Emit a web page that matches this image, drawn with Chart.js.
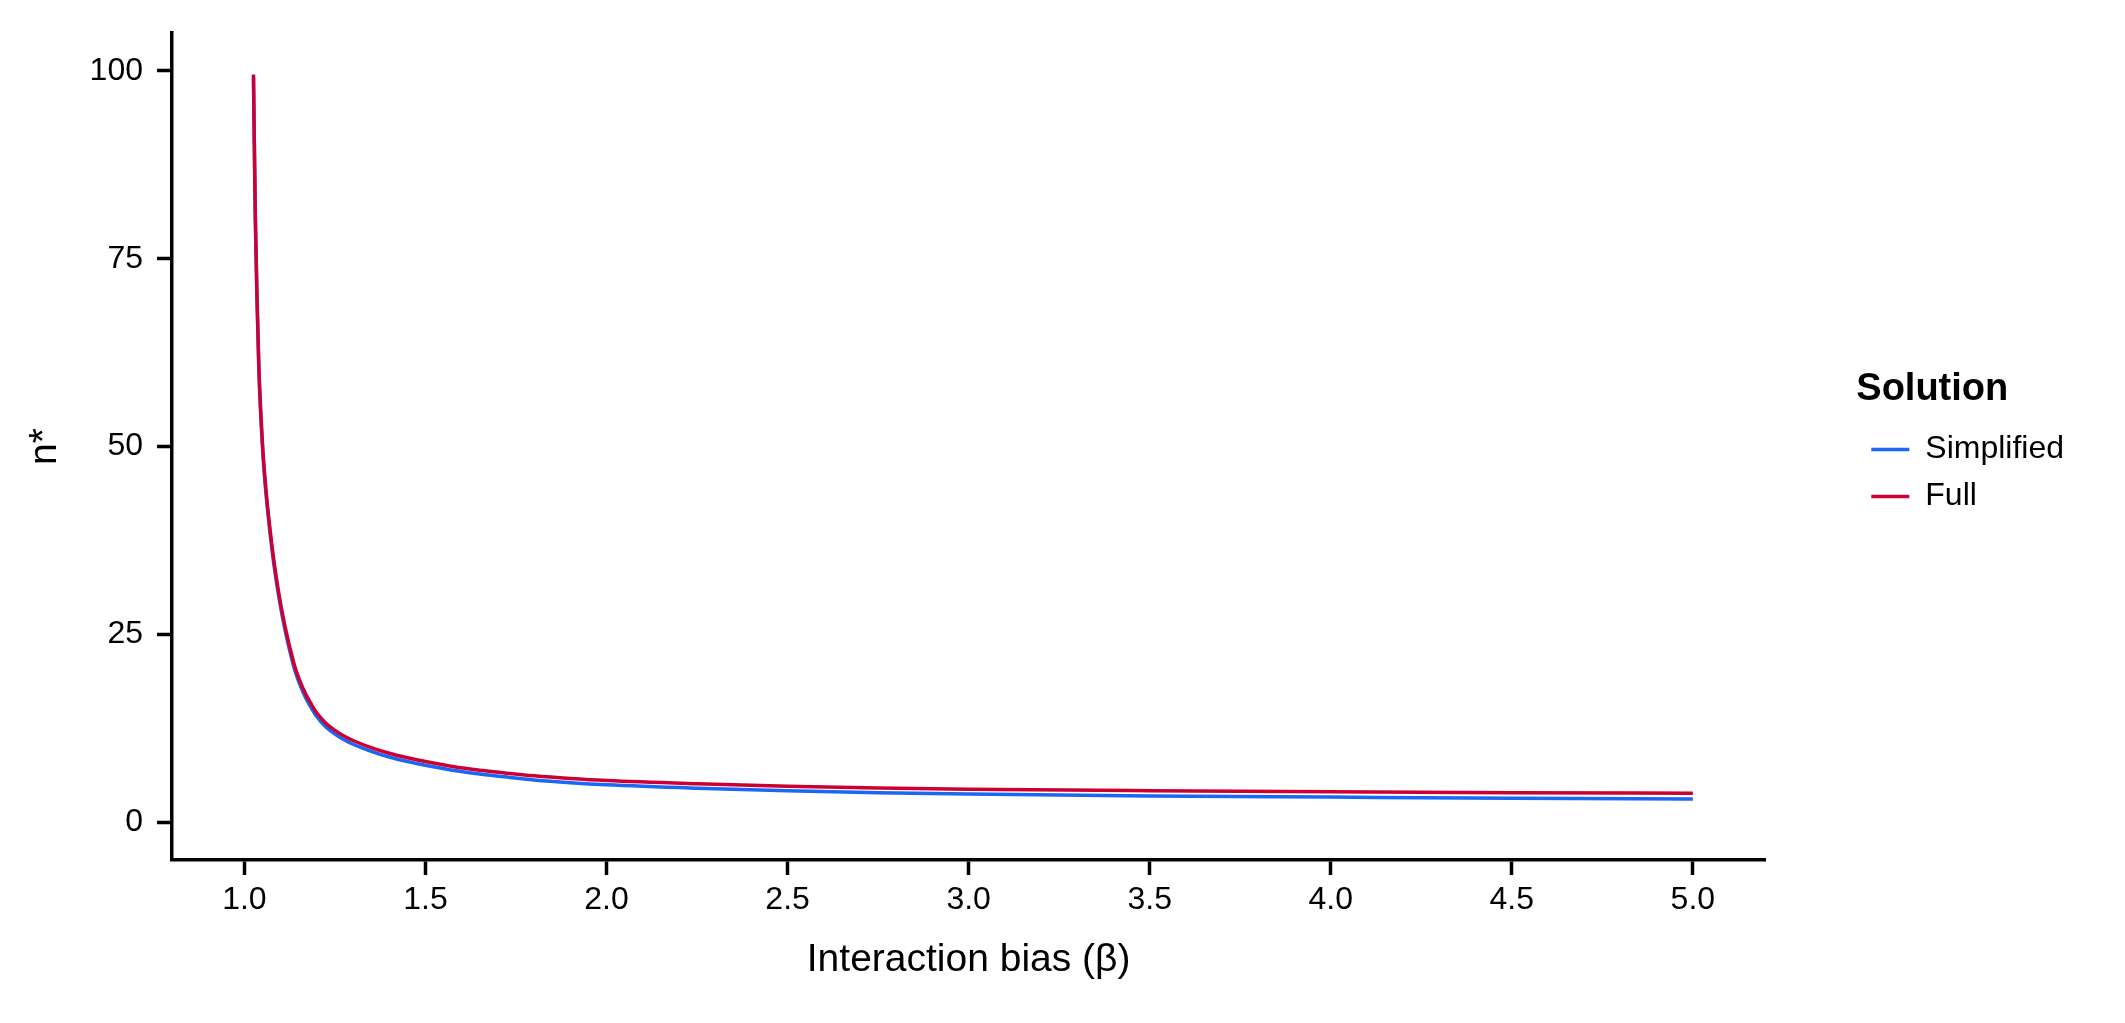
<!DOCTYPE html>
<html>
<head>
<meta charset="utf-8">
<script src="https://cdn.jsdelivr.net/npm/chart.js@4.4.1/dist/chart.umd.min.js"></script>
<style>
  html, body { margin: 0; padding: 0; background: #fff; }
  #wrap { width: 2125px; height: 1023px; position: relative; }
</style>
</head>
<body>
<div id="wrap"><canvas id="myChart"></canvas></div>
<script>
// interaction bias values (x)
var beta = [1.025, 1.03, 1.035, 1.04, 1.05, 1.06, 1.07, 1.08, 1.09, 1.1, 1.11, 1.12, 1.13, 1.14, 1.155,
            1.17, 1.185, 1.2, 1.225, 1.25, 1.275, 1.3, 1.35, 1.4, 1.45, 1.5, 1.575, 1.65, 1.725, 1.8,
            1.9, 2.0, 2.25, 2.5, 2.75, 3.0, 3.5, 4.0, 4.5, 5.0];

// n* for the full solution
var full = [99.5, 81, 69.5, 60.5, 50.3, 44.0, 39.3, 35.3, 32.0, 29.1, 26.6, 24.4, 22.4, 20.6, 18.6,
            17.0, 15.7, 14.55, 13.2, 12.25, 11.5, 10.9, 9.95, 9.2, 8.6, 8.1, 7.45, 6.95, 6.55, 6.2,
            5.85, 5.58, 5.15, 4.82, 4.58, 4.42, 4.22, 4.07, 3.96, 3.88];

// n* for the simplified solution
var simplified = [99, 80.5, 69, 60, 49.8, 43.5, 38.8, 34.8, 31.5, 28.6, 26.1, 23.9, 21.9, 20.1, 18.1,
                  16.5, 15.2, 14.05, 12.7, 11.75, 11.0, 10.4, 9.45, 8.7, 8.1, 7.6, 6.95, 6.45, 6.03, 5.65,
                  5.28, 5.0, 4.55, 4.22, 3.96, 3.78, 3.53, 3.37, 3.22, 3.12];

var xTicks = [1.0, 1.5, 2.0, 2.5, 3.0, 3.5, 4.0, 4.5, 5.0];
var yTicks = [0, 25, 50, 75, 100];

var FONT = "'Liberation Sans', Arial, Helvetica, sans-serif";

function toPoints(xs, ys) {
	var pts = [];
	for (var i = 0; i < xs.length; i++) {
		pts.push({x: xs[i], y: ys[i]});
	}
	return pts;
}

var axisGrid = {
	drawOnChartArea: false,
	drawTicks: true,
	tickLength: 15,
	tickWidth: 3.5,
	tickColor: '#000'
};

const ctx = document.getElementById('myChart');

// Full is listed first so it is drawn on top, legend is reversed to show Simplified first
new Chart(ctx, {
	type: 'line',
	data: {
		datasets: [
			{
				label: 'Full',
				data: toPoints(beta, full),
				borderColor: '#CC0033',
				backgroundColor: '#CC0033',
				borderWidth: 3.5,
				pointRadius: 0,
				cubicInterpolationMode: 'monotone',
				fill: false
			},
			{
				label: 'Simplified',
				data: toPoints(beta, simplified),
				borderColor: '#1A66F5',
				backgroundColor: '#1A66F5',
				borderWidth: 3.5,
				pointRadius: 0,
				cubicInterpolationMode: 'monotone',
				fill: false
			}
		]
	},
	options: {
		responsive: true,
		maintainAspectRatio: false,
		devicePixelRatio: 1,
		animation: false,
		layout: { padding: { top: 30, right: 51, bottom: 0, left: 0 } },
		plugins: {
			tooltip: { enabled: false },
			legend: {
				display: true,
				position: 'right',
				align: 'start',
				reverse: true,
				title: {
					display: true,
					text: 'Solution',
					position: 'start',
					color: '#000',
					font: { family: FONT, size: 38, weight: 'bold' },
					padding: { top: 341, bottom: 2 }
				},
				labels: {
					usePointStyle: true,
					pointStyle: 'line',
					pointStyleWidth: 38,
					padding: 15,
					color: '#000',
					font: { family: FONT, size: 32 }
				}
			}
		},
		scales: {
			x: {
				type: 'linear',
				position: 'bottom',
				min: 0.8,
				max: 5.2,
				grid: axisGrid,
				border: { display: true, color: '#000', width: 3.5 },
				afterBuildTicks: function (scale) {
					scale.ticks = xTicks.map(function (v) { return {value: v}; });
				},
				ticks: {
					color: '#000',
					padding: 6,
					maxRotation: 0,
					font: { family: FONT, size: 32 },
					callback: function (v) { return Number(v).toFixed(1); }
				},
				title: {
					display: true,
					text: 'Interaction bias (\u03B2)',
					color: '#000',
					font: { family: FONT, size: 39 },
					padding: { top: 0, bottom: 39 }
				},
				afterFit: function (scale) { scale.height = 163; }
			},
			y: {
				type: 'linear',
				position: 'left',
				min: -5,
				max: 105,
				grid: axisGrid,
				border: { display: true, color: '#000', width: 3.5 },
				afterBuildTicks: function (scale) {
					scale.ticks = yTicks.map(function (v) { return {value: v}; });
				},
				ticks: {
					color: '#000',
					padding: 14,
					font: { family: FONT, size: 32 }
				},
				title: {
					display: true,
					text: 'n*',
					color: '#000',
					font: { family: FONT, size: 39 },
					padding: { top: 22, bottom: 0 }
				},
				afterFit: function (scale) { scale.width = 172; }
			},
			// empty spacer between plot and legend
			gap: {
				type: 'linear',
				position: 'right',
				display: true,
				grid: { display: false },
				border: { display: false },
				ticks: { display: false },
				afterFit: function (scale) { scale.width = 91; }
			}
		}
	}
});
</script>
</body>
</html>
